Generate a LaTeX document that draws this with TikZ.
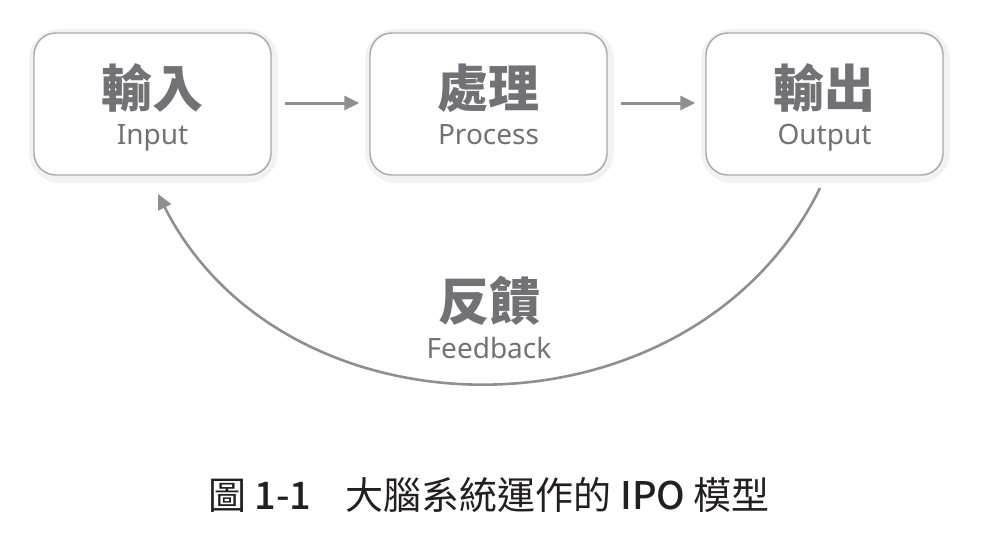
\documentclass[tikz,border=0pt]{standalone}
\usepackage{fontspec}
\setmainfont{Noto Sans}
\newfontfamily\cjk{Noto Sans CJK TC}
\newfontfamily\cjkmed{Noto Sans CJK TC Medium}
\usetikzlibrary{arrows.meta}
\definecolor{txtgray}{HTML}{727276}
\definecolor{boxline}{HTML}{A8A8A8}
\definecolor{arrgray}{HTML}{8F8F92}
\definecolor{captxt}{HTML}{231F20}
\tikzset{
  ipobox/.style={draw=boxline, line width=1.4pt, rounded corners=22pt, fill=white,
    minimum width=237pt, minimum height=142pt, inner sep=0pt},
  shadowbox/.style={draw=black!8, line width=#1, rounded corners=24pt,
    minimum width=237pt, minimum height=142pt, inner sep=0pt},
  zhlabel/.style={font=\cjk\bfseries\fontsize{51}{55}\selectfont, text=txtgray, inner sep=0pt},
  enlabel/.style={font=\fontsize{28}{31}\selectfont, text=txtgray, inner sep=0pt},
  flowarrow/.style={draw=arrgray, line width=3pt, -{Triangle[length=15pt,width=14pt]}},
}
\begin{document}
\begin{tikzpicture}[x=1pt,y=-1pt]
\useasboundingbox (0,0) rectangle (990,558);
% soft shadows
\foreach \cx in {153.5,489.5,825.5}{
  \node[shadowbox=6pt] at (\cx,105.5) {};
  \node[draw=black!5, line width=10pt, rounded corners=26pt, minimum width=239pt, minimum height=144pt] at (\cx,106) {};
}
\node[ipobox] (in) at (152.5,104) {};
\node[ipobox] (proc) at (488.5,104) {};
\node[ipobox] (out) at (824.5,104) {};

\node[zhlabel] (inzh) at (152.5,88) {輸入};
\node[enlabel, anchor=base] (inen) at (152.5,144) {Input};
\node[zhlabel] (proczh) at (488.5,88) {處理};
\node[enlabel, anchor=base] (procen) at (488.5,144) {Process};
\node[zhlabel] (outzh) at (824.5,88) {輸出};
\node[enlabel, anchor=base] (outen) at (824.5,144) {Output};

\draw[flowarrow, shorten <=13pt, shorten >=10pt] (in.east |- 0,103) -- (proc.west |- 0,103);
\draw[flowarrow, shorten <=13pt, shorten >=10pt] (proc.east |- 0,103) -- (out.west |- 0,103);

\coordinate (fbstart) at (820,188);
\coordinate (fbend) at (158,194);
\draw[flowarrow, line width=2.6pt] (fbstart) .. controls (693,447) and (286,447) .. (fbend);

\node[zhlabel] (fbzh) at (489,301) {反饋};
\node[enlabel, anchor=base] (fben) at (489,358) {Feedback};

\node[text=captxt, inner sep=0pt, font=\cjk\fontsize{38}{42}\selectfont] (cap) at (489,495)
  {圖 {\cjkmed 1-1}\hspace{0.9em}大腦系統運作的 {\cjkmed IPO} 模型};
\end{tikzpicture}
\end{document}
